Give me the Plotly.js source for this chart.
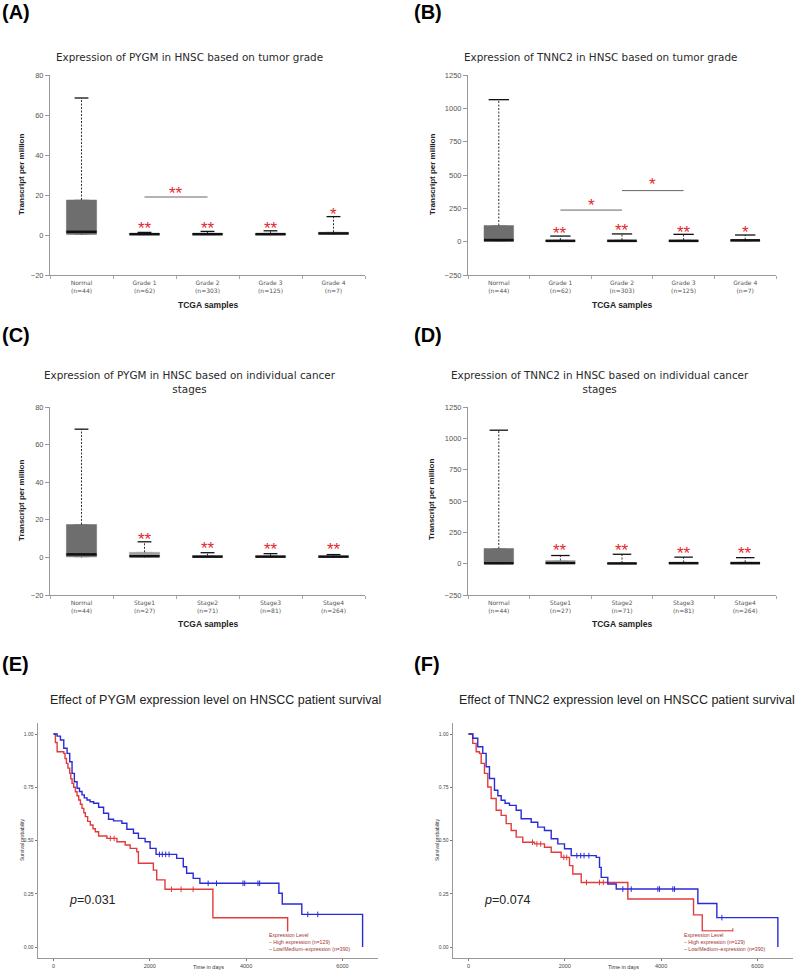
<!DOCTYPE html>
<html><head><meta charset="utf-8">
<script src="https://cdn.plot.ly/plotly-3.0.1.min.js"></script>
<style>html,body{margin:0;padding:0;background:#fff}</style>
</head><body>
<div id="chart" style="width:800px;height:970px"></div>
<script>
// ---------------- DATA ----------------
const gradeCats = ['Normal','Grade 1','Grade 2','Grade 3','Grade 4'];
const gradeN = [44,62,303,125,7];
const stageCats = ['Normal','Stage1','Stage2','Stage3','Stage4'];
const stageN = [44,27,71,81,264];

const pygmTicks = [-20,0,20,40,60,80];
const tnnc2Ticks = [-250,0,250,500,750,1000,1250];

// (A) PYGM by tumor grade
const pygmGradeLow  = [0,0,0,0,0];
const pygmGradeQ1   = [0.3,0.1,0.1,0.1,0.3];
const pygmGradeMed  = [1.6,0.4,0.4,0.4,0.8];
const pygmGradeQ3   = [17.5,0.9,0.9,0.9,1.4];
const pygmGradeHigh = [68.5,1.3,1.8,2.1,9.2];
const pygmGradeStars = ['','**','**','**','*'];
const pygmGradeStarY = [null,5.5,5.5,5.5,12.8];
const pygmGradeSigFrom = [1], pygmGradeSigTo = [2], pygmGradeSigY = [19], pygmGradeSigLabel = ['**'], pygmGradeSigLabelY = [23.3];

// (B) TNNC2 by tumor grade
const tnnc2GradeLow  = [0,0,0,0,0];
const tnnc2GradeQ1   = [2,1,1,1,3];
const tnnc2GradeMed  = [12,6,6,6,10];
const tnnc2GradeQ3   = [121,12,12,12,15];
const tnnc2GradeHigh = [1065,42,58,55,50];
const tnnc2GradeStars = ['','**','**','**','*'];
const tnnc2GradeStarY = [null,100,118,108,108];
const tnnc2GradeSigFrom = [1,2], tnnc2GradeSigTo = [2,3], tnnc2GradeSigY = [237,383], tnnc2GradeSigLabel = ['*','*'], tnnc2GradeSigLabelY = [312,468];

// (C) PYGM by stage
const pygmStageLow  = [0,0,0,0,0];
const pygmStageQ1   = [0.3,0.3,0.1,0.1,0.1];
const pygmStageMed  = [1.6,0.6,0.4,0.4,0.4];
const pygmStageQ3   = [17.5,2.7,0.9,0.8,0.8];
const pygmStageHigh = [68.2,8.3,2.5,2.0,1.5];
const pygmStageStars = ['','**','**','**','**'];
const pygmStageStarY = [null,12.4,7.5,6.6,6.6];

// (D) TNNC2 by stage
const tnnc2StageLow  = [0,0,0,0,0];
const tnnc2StageQ1   = [0,0,0,0,0];
const tnnc2StageMed  = [3,5,2,4,4];
const tnnc2StageQ3   = [121,25,5,10,12];
const tnnc2StageHigh = [1065,65,75,52,48];
const tnnc2StageStars = ['','**','**','**','**'];
const tnnc2StageStarY = [null,141,146,122,122];

// (E) PYGM survival
const pygmHighT = [0,40,76,214,240,269,300,338,360,386,420,455,490,524,560,593,630,662,710,765,820,869,938,1110,1317,1489,1592,1730,1764,2074,2144,2316,3310,4862];
const pygmHighS = [1,0.96,0.917,0.909,0.885,0.862,0.84,0.815,0.79,0.768,0.75,0.729,0.71,0.69,0.67,0.651,0.63,0.612,0.59,0.573,0.555,0.541,0.521,0.51,0.494,0.479,0.463,0.447,0.393,0.361,0.315,0.271,0.137,0];
const pygmHighCens = [1180,1260,2450,2650,2900];
const pygmLowT = [0,76,145,214,283,338,386,434,490,540,593,640,697,760,834,938,1041,1144,1248,1421,1524,1661,1764,1903,2006,2130,2558,2695,2765,2901,3040,4680,4750,5156,6418];
const pygmLowS = [1,0.99,0.972,0.933,0.909,0.87,0.815,0.776,0.745,0.73,0.714,0.70,0.69,0.682,0.675,0.656,0.628,0.6,0.592,0.581,0.553,0.534,0.51,0.494,0.463,0.435,0.416,0.377,0.346,0.322,0.299,0.252,0.202,0.153,0];
const pygmLowCens = [2200,2260,2330,2400,3212,3385,3935,3971,4246,4281,5280,5487];

// (F) TNNC2 survival
const tnnc2HighT = [0,89,160,228,264,332,401,471,575,679,783,887,991,1128,1371,1578,1718,1925,2098,2167,2341,3309,4673,4854,5490];
const tnnc2HighS = [1,0.956,0.917,0.909,0.862,0.815,0.751,0.697,0.642,0.618,0.579,0.547,0.516,0.492,0.484,0.468,0.445,0.421,0.382,0.343,0.303,0.225,0.151,0.075,0.075];
const tnnc2HighCens = [1330,1420,1500,1980,2040,2450,2720,2800,5490];
const tnnc2LowT = [0,89,193,297,367,436,540,610,679,760,852,991,1094,1302,1439,1578,1718,1855,1994,2133,2652,2721,2756,2893,3068,4763,5157,6424];
const tnnc2LowS = [1,0.98,0.94,0.909,0.846,0.791,0.736,0.71,0.689,0.675,0.665,0.642,0.602,0.586,0.563,0.547,0.508,0.484,0.461,0.429,0.421,0.374,0.327,0.296,0.272,0.204,0.138,0];
const tnnc2LowCens = [2250,2330,2400,2500,3205,3379,3932,3967,4243,4279,5261];

const kmTickVals = [0,2000,4000,6000];
const kmYTickVals = [0,0.25,0.5,0.75,1];
const kmYTickText = ['0.00','0.25','0.50','0.75','1.00'];

// ---------------- STYLE / HELPERS ----------------
const ARIAL = 'Liberation Sans, Arial, sans-serif';
const DV = 'DejaVu Sans, sans-serif';
const RED_STAR = '#e3262e';
const px = x => x / 800, py = y => 1 - y / 970;
const traces = [], annotations = [];

function boxPanel(n, lo, q1, med, q3, hi, stars, starY, capW, sigFrom, sigTo, sigY, sigLab, sigLabY) {
  const xa = 'x' + n, ya = 'y' + n;
  const pos = q1.map((v, i) => i);
  pos.forEach(i => {
    const fc = i === 0 ? '#6e6e6e' : '#a0a0a0';
    traces.push({type:'box', x:[i], q1:[q1[i]], median:[med[i]], q3:[q3[i]],
      lowerfence:[q1[i]], upperfence:[q3[i]], width:0.48, fillcolor:fc,
      line:{color:fc, width:0.5}, boxpoints:false, xaxis:xa, yaxis:ya,
      showlegend:false, hoverinfo:'skip'});
  });
  const wx = [], wy = [], cx = [], cy = [], mx = [], my = [];
  pos.forEach(i => {
    wx.push(i, i, null, i, i, null); wy.push(q3[i], hi[i], null, lo[i], q1[i], null);
    cx.push(i - capW / 2, i + capW / 2, null); cy.push(hi[i], hi[i], null);
    mx.push(i - 0.24, i + 0.24, null); my.push(med[i], med[i], null);
  });
  traces.push({type:'scatter', mode:'lines', x:wx, y:wy, line:{color:'#333', width:1, dash:'2px,1.5px'}, xaxis:xa, yaxis:ya, showlegend:false, hoverinfo:'skip'});
  traces.push({type:'scatter', mode:'lines', x:mx, y:my, line:{color:'#111', width:2.5}, xaxis:xa, yaxis:ya, showlegend:false, hoverinfo:'skip'});
  traces.push({type:'scatter', mode:'lines', x:cx, y:cy, line:{color:'#111', width:1.3}, xaxis:xa, yaxis:ya, showlegend:false, hoverinfo:'skip'});
  pos.forEach(i => {
    if (stars[i]) annotations.push({xref:xa, yref:ya, x:i, y:starY[i], text:stars[i], showarrow:false,
      font:{family:ARIAL, size:17, color:RED_STAR}, yshift:-5});
  });
  if (sigFrom) {
    const sx = [], sy = [];
    sigFrom.forEach((f, k) => {
      sx.push(f, sigTo[k], null); sy.push(sigY[k], sigY[k], null);
      annotations.push({xref:xa, yref:ya, x:(f + sigTo[k]) / 2, y:sigLabY[k], text:sigLab[k], showarrow:false,
        font:{family:ARIAL, size:17, color:RED_STAR}, yshift:-5});
    });
    traces.push({type:'scatter', mode:'lines', x:sx, y:sy, line:{color:'#666', width:1}, xaxis:xa, yaxis:ya, showlegend:false, hoverinfo:'skip'});
  }
}

function stepAt(T, S, t) { let v = S[0]; for (let i = 0; i < T.length; i++) { if (T[i] <= t) v = S[i]; } return v; }

function kmPanel(n, T, S, cens, color) {
  const xa = 'x' + n, ya = 'y' + n;
  traces.push({type:'scatter', mode:'lines', x:T, y:S, line:{shape:'hv', color:color, width:1.4}, xaxis:xa, yaxis:ya, showlegend:false, hoverinfo:'skip'});
  traces.push({type:'scatter', mode:'markers', x:cens, y:cens.map(t => stepAt(T, S, t)),
    marker:{symbol:'line-ns-open', size:4, color:color, line:{color:color, width:1}}, xaxis:xa, yaxis:ya, showlegend:false, hoverinfo:'skip'});
}

boxPanel(1, pygmGradeLow, pygmGradeQ1, pygmGradeMed, pygmGradeQ3, pygmGradeHigh, pygmGradeStars, pygmGradeStarY, 0.22, pygmGradeSigFrom, pygmGradeSigTo, pygmGradeSigY, pygmGradeSigLabel, pygmGradeSigLabelY);
boxPanel(2, tnnc2GradeLow, tnnc2GradeQ1, tnnc2GradeMed, tnnc2GradeQ3, tnnc2GradeHigh, tnnc2GradeStars, tnnc2GradeStarY, 0.33, tnnc2GradeSigFrom, tnnc2GradeSigTo, tnnc2GradeSigY, tnnc2GradeSigLabel, tnnc2GradeSigLabelY);
boxPanel(3, pygmStageLow, pygmStageQ1, pygmStageMed, pygmStageQ3, pygmStageHigh, pygmStageStars, pygmStageStarY, 0.22);
boxPanel(4, tnnc2StageLow, tnnc2StageQ1, tnnc2StageMed, tnnc2StageQ3, tnnc2StageHigh, tnnc2StageStars, tnnc2StageStarY, 0.3);

const KM_RED = '#e23b3b', KM_BLUE = '#2a2ad6';
kmPanel(5, pygmHighT, pygmHighS, pygmHighCens, KM_RED);
kmPanel(5, pygmLowT, pygmLowS, pygmLowCens, KM_BLUE);
kmPanel(6, tnnc2HighT, tnnc2HighS, tnnc2HighCens, KM_RED);
kmPanel(6, tnnc2LowT, tnnc2LowS, tnnc2LowCens, KM_BLUE);

function boxX(domain, anchor, cats, ns) {
  return {domain, anchor, range:[-0.5, 4.5], tickmode:'array', tickvals:cats.map((c, i) => i),
    ticktext:cats.map((c, i) => c + '<br>(n=' + ns[i] + ')'), ticks:'', showline:true, linecolor:'#999', linewidth:1,
    showgrid:false, zeroline:false, tickfont:{family:DV, size:6, color:'#555'}, ticklabelstandoff:2,
    minor:{tickmode:'array', tickvals:[-0.5, 0.5, 1.5, 2.5, 3.5, 4.5], ticks:'outside', ticklen:3, tickcolor:'#aaa', showgrid:false},
    fixedrange:true};
}
function boxY(domain, anchor, ticks) {
  return {domain, anchor, range:[ticks[0], ticks[ticks.length - 1]], tickmode:'array', tickvals:ticks, ticks:'outside', ticklen:4,
    tickcolor:'#999', tickwidth:1, showline:true, linecolor:'#999', linewidth:1, showgrid:false, zeroline:false,
    tickfont:{family:ARIAL, size:7.5, color:'#555'}, fixedrange:true};
}
function kmX(domain, anchor) {
  return {domain, anchor, range:[-321, 6738], tickmode:'array', tickvals:kmTickVals, ticks:'outside', ticklen:2, tickcolor:'#777',
    showline:true, linecolor:'#999', linewidth:1.5, showgrid:false, zeroline:false, tickfont:{family:ARIAL, size:5.5, color:'#444'}, fixedrange:true};
}
function kmY(domain, anchor) {
  return {domain, anchor, range:[-0.05, 1.05], tickmode:'array', tickvals:kmYTickVals, ticktext:kmYTickText, ticks:'outside', ticklen:2,
    tickcolor:'#777', showline:true, linecolor:'#999', linewidth:1.5, showgrid:false, zeroline:false, tickfont:{family:ARIAL, size:5, color:'#444'}, fixedrange:true};
}

const dxL = [px(50), px(365)], dxR = [px(468), px(776)];
const dyTop = [py(275), py(75)], dyMid = [py(595), py(407)];
const dyBot = [py(957.65), py(723.35)];

// text annotations
function txt(x, y, text, size, opts) {
  annotations.push(Object.assign({xref:'paper', yref:'paper', x:px(x), y:py(y), text, showarrow:false,
    xanchor:'center', yanchor:'middle', font:{family:ARIAL, size, color:'#000'}}, opts || {}));
}
// panel labels
[['(A)',0,12],['(B)',412,12],['(C)',0,335],['(D)',412,335],['(E)',0,664],['(F)',412,664]].forEach(a =>
  txt(a[1], a[2], '<b>' + a[0] + '</b>', 20, {xanchor:'left'}));
// box titles
const tfont = {family:DV, size:10.4, color:'#2a2a2a'};
txt(189, 57, 'Expression of PYGM in HNSC based on tumor grade', 10.4, {font:tfont});
txt(600, 57, 'Expression of TNNC2 in HNSC based on tumor grade', 10.4, {font:tfont});
txt(190, 382.5, 'Expression of PYGM in HNSC based on individual cancer<br>stages', 10.4, {font:tfont});
txt(600, 382.5, 'Expression of TNNC2 in HNSC based on individual cancer<br>stages', 10.4, {font:tfont});
// box axis titles
[[21,175],[432,175],[21,501],[432,500]].forEach(p => txt(p[0], p[1], '<b>Transcript per million</b>', 8, {textangle:-90, font:{family:ARIAL, size:8, color:'#222'}}));
[[208,305],[622,305],[208,624],[622,624]].forEach(p => txt(p[0], p[1], '<b>TCGA samples</b>', 8.5, {font:{family:ARIAL, size:8.5, color:'#222'}}));
// KM titles
txt(215, 700, 'Effect of PYGM expression level on HNSCC patient survival', 12.5, {font:{family:ARIAL, size:12.5, color:'#222'}});
txt(627, 700, 'Effect of TNNC2 expression level on HNSCC patient survival', 12.5, {font:{family:ARIAL, size:12.5, color:'#222'}});
[[22,840],[437,840]].forEach(p => txt(p[0], p[1], 'Survival probability', 5, {textangle:-90, font:{family:ARIAL, size:5, color:'#333'}}));
[[208,967],[623,967]].forEach(p => txt(p[0], p[1], 'Time in days', 5.5, {font:{family:ARIAL, size:5.5, color:'#333'}}));
// p-values
annotations.push({xref:'x5', yref:'y5', x:290, y:0.22, text:'<i>p</i>=0.031', showarrow:false, xanchor:'left', font:{family:ARIAL, size:12.5, color:'#222'}});
annotations.push({xref:'x6', yref:'y6', x:290, y:0.22, text:'<i>p</i>=0.074', showarrow:false, xanchor:'left', font:{family:ARIAL, size:12.5, color:'#222'}});
// KM legends
const legText = 'Expression Level<br><span style="color:' + KM_RED + '">–</span> High expression (n=129)<br><span style="color:' + KM_BLUE + '">–</span> Low/Medium–expression (n=390)';
[[268,931],[683,931]].forEach(p => annotations.push({xref:'paper', yref:'paper', x:px(p[0]), y:py(p[1]), text:legText, showarrow:false,
  xanchor:'left', yanchor:'top', align:'left', bgcolor:'#ffffff', borderpad:0, font:{family:ARIAL, size:5.2, color:'#a03434'}}));

const layout = {
  width:800, height:970, margin:{l:0, r:0, t:0, b:0}, paper_bgcolor:'#fff', plot_bgcolor:'#fff', showlegend:false,
  xaxis:boxX(dxL, 'y', gradeCats, gradeN), yaxis:boxY(dyTop, 'x', pygmTicks),
  xaxis2:boxX(dxR, 'y2', gradeCats, gradeN), yaxis2:boxY(dyTop, 'x2', tnnc2Ticks),
  xaxis3:boxX(dxL, 'y3', stageCats, stageN), yaxis3:boxY(dyMid, 'x3', pygmTicks),
  xaxis4:boxX(dxR, 'y4', stageCats, stageN), yaxis4:boxY(dyMid, 'x4', tnnc2Ticks),
  xaxis5:kmX([px(38), px(378)], 'y5'), yaxis5:kmY(dyBot, 'x5'),
  xaxis6:kmX([px(453), px(793)], 'y6'), yaxis6:kmY(dyBot, 'x6'),
  annotations
};
traces.forEach(t => { if (t.xaxis === 'x1') t.xaxis = 'x'; if (t.yaxis === 'y1') t.yaxis = 'y'; });
annotations.forEach(a => { if (a.xref === 'x1') a.xref = 'x'; if (a.yref === 'y1') a.yref = 'y'; });
Plotly.newPlot('chart', traces, layout, {displayModeBar:false, staticPlot:true});
</script>
</body></html>
